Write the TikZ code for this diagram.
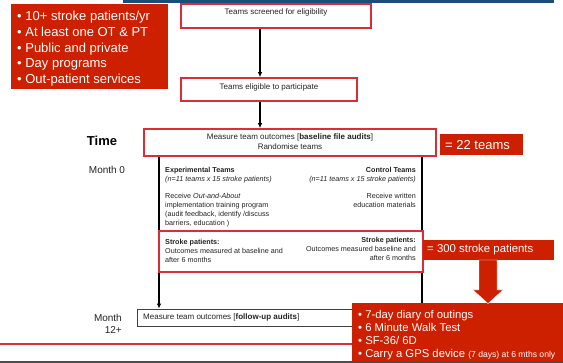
\documentclass[tikz,border=0pt]{standalone}
\usepackage{fontspec}
\setmainfont{Liberation Sans}
\usetikzlibrary{arrows.meta}
\definecolor{redfill}{RGB}{204,32,0}
\definecolor{redline}{RGB}{218,45,55}
\definecolor{topblue}{RGB}{26,78,120}
\definecolor{txt}{RGB}{35,35,35}
\begin{document}
\begin{tikzpicture}[x=1pt,y=-1pt,
  redbox/.style={draw=redline, line width=1.5pt, fill=white, inner sep=0pt},
  plainbox/.style={draw=black!75, line width=0.8pt, fill=white, inner sep=0pt},
  fillbox/.style={fill=redfill, inner sep=0pt},
  t8/.style={font=\fontsize{8}{10}\selectfont, text=txt, inner sep=0pt},
  s7/.style={font=\fontsize{7.2}{8.8}\selectfont, text=txt, inner sep=0pt},
  wbig/.style={font=\fontsize{13}{15.7}\selectfont, text=white, inner sep=0pt},
  lbl/.style={font=\fontsize{10}{12}\selectfont, text=txt, inner sep=0pt},
  arr/.style={-{Latex[length=5pt,width=4.5pt]}, line width=1.3pt, black},
  vline/.style={line width=1.3pt, black}]
\useasboundingbox (0,0) rectangle (563,363);
\fill[white] (0,0) rectangle (563,363);
% top bar
\fill[topblue] (123,0) rectangle (554,3.5);
% top-left criteria
\node[fillbox, minimum width=157pt, minimum height=85pt] (crit) at (89,46.5) {};
\node[wbig, anchor=north west, align=left] (critt) at (17,11)
  {• 10+ stroke patients/yr\\• At least one OT \& PT\\• Public and private\\• Day programs\\• Out-patient services};
% helper coordinates
\coordinate (ax) at (260,0);
\coordinate (lx) at (159,0);
\coordinate (rx) at (422,0);
% flow boxes
\node[redbox, minimum width=190pt, minimum height=24pt] (b1) at (276,16) {};
\node[t8] (b1t) at (276,12.7) {Teams screened for eligibility};
\node[redbox, minimum width=176pt, minimum height=23pt] (b2) at (269,89.5) {};
\node[t8] (b2t) at (269,87.3) {Teams eligible to participate};
\node[redbox, minimum width=292pt, minimum height=27pt] (b3) at (290,142.5) {};
\node[t8] (b3t1) at (290,137) {Measure team outcomes [\textbf{baseline file audits}]};
\node[t8] (b3t2) at (290,147) {Randomise teams};
\draw[arr] (b1.south -| ax) -- (b2.north -| ax);
\draw[arr] (b2.south -| ax) -- (b3.north -| ax);
% labels on left
\node[font=\bfseries\fontsize{13}{15}\selectfont, inner sep=0pt] (time) at (102,141) {Time};
\node[lbl] (m0) at (107,170) {Month 0};
\node[lbl, anchor=east] (m12a) at (122,318) {Month};
\node[lbl, anchor=east] (m12b) at (122,330.5) {12+};
% = 22 teams
\node[fillbox, minimum width=83pt, minimum height=21pt] (t22) at (481.5,144.5) {};
\node[wbig, anchor=west] (t22t) at (445,145) {= 22 teams};
% follow-up box and bottom elements
\node[plainbox, minimum width=223pt, minimum height=17pt] (fu) at (248.5,317.5) {};
\node[t8, anchor=west] (fut) at (143,317) {Measure team outcomes [\textbf{follow-up audits}]};
\draw[arr] (b3.south -| lx) -- (fu.north -| lx);
\draw[redline, line width=1.2pt] (0,344) -- (353,344);
\draw[black!70, line width=1.6pt] (0,362.2) -- (563,362.2);
\node[fillbox, minimum width=211pt, minimum height=58pt] (bot) at (457.5,332) {};
\draw[vline] (b3.south -| rx) -- (bot.north -| rx);
% columns
\node[s7, anchor=north west, align=left] (expt) at (165,167)
  {\textbf{Experimental Teams}\\\textit{(n=11 teams x 15 stroke patients)}\\[8.8pt]
   Receive \textit{Out-and-About}\\implementation training program\\(audit feedback, identify /discuss\\barriers, education )};
\node[s7, anchor=north east, align=right] (ctrl) at (416,167)
  {\textbf{Control Teams}\\\textit{(n=11 teams x 15 stroke patients)}\\[8.8pt]
   Receive written\\education materials};
% stroke patients box
\node[redbox, minimum width=264pt, minimum height=41pt] (sp) at (291,251.5) {};
\node[s7, anchor=north west, align=left] (spl) at (165,239)
  {\textbf{Stroke patients:}\\Outcomes measured at baseline and\\after 6 months};
\node[s7, anchor=north east, align=right] (spr) at (416,237.5)
  {\textbf{Stroke patients:}\\Outcomes measured baseline and\\after 6 months};
% = 300 stroke patients
\node[fillbox, minimum width=131pt, minimum height=20pt] (t300) at (488.5,250) {};
\node[font=\fontsize{11.4}{13}\selectfont, text=white, inner sep=0pt, anchor=west] (t300t) at (427,250) {= 300 stroke patients};
\fill[redfill, draw=white, line width=0.4pt] (479,260) -- (497,260) -- (497,290) -- (503,290) -- (488,303.5) -- (473,290) -- (479,290) -- cycle;
% outcome measures
\node[font=\fontsize{11.3}{13}\selectfont, text=white, inner sep=0pt, anchor=north west, align=left] (bott) at (358,310)
  {• 7-day diary of outings\\• 6 Minute Walk Test\\• SF-36/ 6D\\• Carry a GPS device {\fontsize{8.6}{13}\selectfont (7 days) at 6 mths only}};
\end{tikzpicture}
\end{document}
